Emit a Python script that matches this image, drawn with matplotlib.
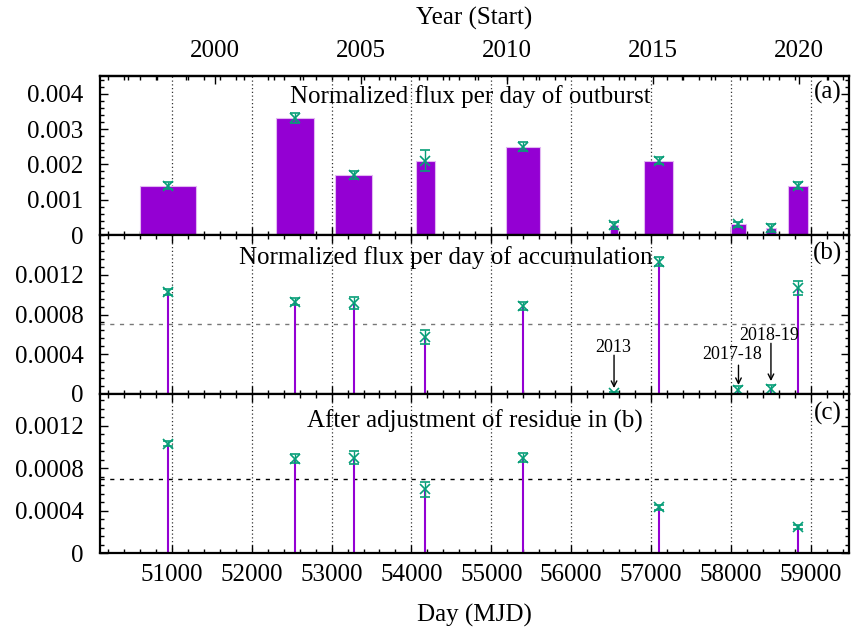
import numpy as np
import matplotlib.pyplot as plt
from matplotlib.ticker import MultipleLocator, FixedLocator

plt.rcParams['font.family'] = ['Liberation Serif', 'DejaVu Serif']

# Outburst intervals (MJD) with normalized flux per day of outburst
outburst_start = [50597, 52306, 53048, 54052, 55190, 56490, 56915, 58002, 58440, 58722]
outburst_end = [51302, 52778, 53506, 54294, 55606, 56585, 57277, 58190, 58565, 58969]
outburst_flux = [0.00140, 0.00330, 0.00170, 0.00210, 0.00250, 0.00028, 0.00210, 0.00030, 0.00020, 0.00140]
outburst_err = [0.00010, 0.00014, 0.00012, 0.00030, 0.00012, 0.00010, 0.00010, 0.00008, 0.00011, 0.00010]

# Normalized flux per day of accumulation (one value per outburst)
accum_flux = [0.00103, 0.00093, 0.00092, 0.000575, 0.00089, 0.00001, 0.00133, 0.00004, 0.000047, 0.00107]
accum_err = [0.00003, 0.000037, 0.00006, 0.00007, 0.00004, 0.00001, 0.000044, 0.00004, 0.000045, 0.00007]

# After adjustment of residue: outbursts kept and their values
adjusted_index = [0, 1, 2, 3, 4, 6, 9]
adjusted_flux = [0.00103, 0.00089, 0.00090, 0.00060, 0.00090, 0.00043, 0.000246]
adjusted_err = [0.000024, 0.00004, 0.00006, 0.00007, 0.00004, 0.00002, 0.00002]

mean_level = 0.0007

# Annotated weak accumulations in panel (b)
note_labels = ['2013', '2017-18', '2018-19']
note_index = [5, 7, 8]

# Year ticks on the top axis
year_major = [2000, 2005, 2010, 2015, 2020]
year_minor = list(range(1997, 2022))

start = np.array(outburst_start, float)
end = np.array(outburst_end, float)
centers = (start + end) / 2
widths = end - start

violet = '#9400d3'
teal = '#079e78'
FS = 18

fig = plt.figure(figsize=(8.51, 6.35), dpi=100)
W, H = 851, 635
left, right = 100 / W, 849 / W
edges = [76, 235, 394, 553]
axes = []
for i in range(3):
    b = 1 - edges[i + 1] / H
    h = (edges[i + 1] - edges[i]) / H
    axes.append(fig.add_axes([left, b, right - left, h]))
ax_a, ax_b, ax_c = axes

for ax in axes:
    ax.set_xlim(50100, 59480)
    ax.xaxis.set_major_locator(MultipleLocator(1000))
    ax.xaxis.set_minor_locator(MultipleLocator(200))
    ax.tick_params(which='both', direction='in', right=True, top=True,
                   labelsize=FS, width=1)
    ax.tick_params(which='major', length=5.5)
    ax.tick_params(which='minor', length=2.8)
    ax.tick_params(axis='y', pad=12)
    ax.tick_params(axis='x', pad=8)
    for s in ax.spines.values():
        s.set_linewidth(1.6)
    ax.grid(axis='x', which='major', linestyle=(0, (1, 2)), color='#333333', lw=0.9)
    ax.set_axisbelow(True)

# (a) bars with error bars
ax_a.bar(centers, outburst_flux, width=widths, color=violet, edgecolor='#e2b8f2', lw=0.8, zorder=2)
ax_a.errorbar(centers, outburst_flux, yerr=outburst_err, fmt='x', color=teal, ms=6.5, mew=1.2,
              capsize=3.5, elinewidth=1, capthick=1, zorder=3)
ax_a.set_ylim(0, 0.0045)
ax_a.set_yticks([0, 0.001, 0.002, 0.003, 0.004], ['0', '0.001', '0.002', '0.003', '0.004'])
ax_a.yaxis.set_minor_locator(MultipleLocator(0.0002))
ax_a.tick_params(axis='x', top=False, labelbottom=False)


# top axis in calendar years
def mjd2yr(m):
    return 2000 + (np.asarray(m) - 51544) / 365.25


def yr2mjd(y):
    return 51544 + (np.asarray(y) - 2000) * 365.25


sec = ax_a.secondary_xaxis('top', functions=(mjd2yr, yr2mjd))
sec.xaxis.set_major_locator(FixedLocator(year_major))
sec.xaxis.set_minor_locator(FixedLocator(year_minor))
sec.set_xticklabels([str(y) for y in year_major])
sec.tick_params(which='both', direction='in', labelsize=FS, width=1, pad=10)
sec.tick_params(which='major', length=5.5)
sec.tick_params(which='minor', length=2.8)
sec.spines['top'].set_linewidth(1.6)
sec.set_xlabel('Year (Start)', fontsize=FS, labelpad=11)

# (b) stems
ax_b.vlines(centers, 0, accum_flux, color=violet, lw=1.5, zorder=2)
ax_b.errorbar(centers, accum_flux, yerr=accum_err, fmt='x', color=teal, ms=6.5, mew=1.2,
              capsize=3.5, elinewidth=1, capthick=1, zorder=3)
ax_b.axhline(mean_level, color='#777777', lw=1, linestyle=(0, (3, 4)), zorder=1)
ax_b.set_ylim(0, 0.0016)
ax_b.set_yticks([0, 0.0004, 0.0008, 0.0012], ['0', '0.0004', '0.0008', '0.0012'])
ax_b.yaxis.set_minor_locator(MultipleLocator(0.00008))
ax_b.tick_params(axis='x', labelbottom=False)

note_text_y = [0.00047, 0.00040, 0.00059]
note_tail_y = [0.00039, 0.00029, 0.00051]
note_tip_y = [0.00006, 0.00009, 0.00013]
note_text_dx = [-15, -80, -25]
for lab, idx, ty, tail, tip, dx in zip(note_labels, note_index, note_text_y,
                                       note_tail_y, note_tip_y, note_text_dx):
    x = centers[idx]
    ax_b.annotate('', xy=(x, tip), xytext=(x, tail),
                  arrowprops=dict(arrowstyle='->', lw=1, color='black', shrinkA=0, shrinkB=0))
    ax_b.text(x + dx, ty, lab, fontsize=13, ha='center', va='center')

# (c) stems after adjustment
cx = centers[adjusted_index]
ax_c.vlines(cx, 0, adjusted_flux, color=violet, lw=1.5, zorder=2)
ax_c.errorbar(cx, adjusted_flux, yerr=adjusted_err, fmt='x', color=teal, ms=6.5, mew=1.2,
              capsize=3.5, elinewidth=1, capthick=1, zorder=3)
ax_c.axhline(mean_level, color='black', lw=1, linestyle=(0, (3, 4)), zorder=1)
ax_c.set_ylim(0, 0.0015)
ax_c.set_yticks([0, 0.0004, 0.0008, 0.0012], ['0', '0.0004', '0.0008', '0.0012'])
ax_c.yaxis.set_minor_locator(MultipleLocator(0.00008))
ax_c.set_xlabel('Day (MJD)', fontsize=FS, labelpad=13)

# panel titles and tags
fig.text(470 / W, 1 - 97 / H, 'Normalized flux per day of outburst', fontsize=FS, ha='center', va='center')
fig.text(446 / W, 1 - 258 / H, 'Normalized flux per day of accumulation', fontsize=FS, ha='center', va='center')
fig.text(475 / W, 1 - 421 / H, 'After adjustment of residue in (b)', fontsize=FS, ha='center', va='center')
for tag, y in zip(['(a)', '(b)', '(c)'], [92, 253, 413]):
    fig.text(828 / W, 1 - y / H, tag, fontsize=FS, ha='center', va='center')

fig.savefig('out.png', dpi=100)
